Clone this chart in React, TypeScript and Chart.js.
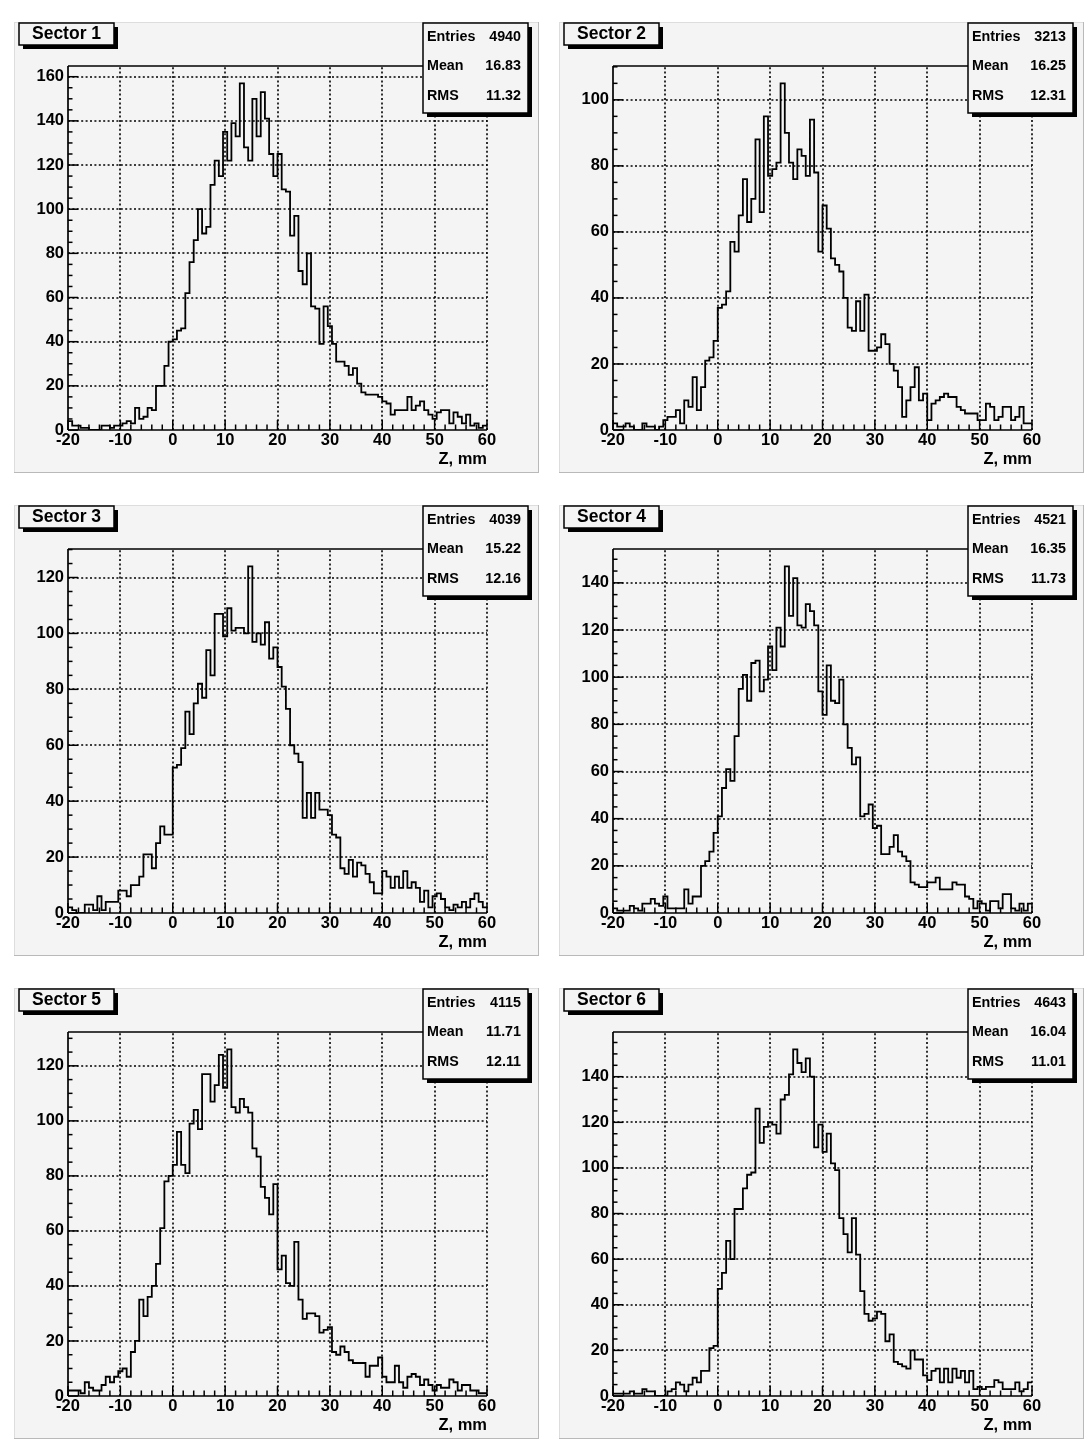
import React, { useEffect, useRef } from "react";
import { Chart, registerables } from "chart.js";

Chart.register(...registerables);

// ---------------- data ----------------
const X_MIN = -20;
const X_MAX = 60;
const BIN_WIDTH = 0.8;
const X_TICKS = [-20, -10, 0, 10, 20, 30, 40, 50, 60];
const X_MINOR_STEP = 2;
const Y_MAJOR_STEP = 20;
const Y_MINOR_STEP = 5;
const X_TITLE = "Z, mm";

const TITLES = ["Sector 1", "Sector 2", "Sector 3", "Sector 4", "Sector 5", "Sector 6"];
const STAT_LABELS = ["Entries", "Mean", "RMS"];
const ENTRIES = ["4940", "3213", "4039", "4521", "4115", "4643"];
const MEANS = ["16.83", "16.25", "15.22", "16.35", "11.71", "16.04"];
const RMS = ["11.32", "12.31", "12.16", "11.73", "12.11", "11.01"];

const SECTOR_1 = [
  4, 2, 2, 1, 1, 0, 0, 0, 2, 2,
  1, 2, 2, 3, 4, 3, 10, 5, 6, 10,
  9, 20, 20, 29, 40, 41, 45, 46, 62, 76,
  86, 100, 89, 92, 111, 122, 115, 135, 122, 139,
  133, 157, 128, 122, 150, 133, 153, 141, 125, 115,
  125, 109, 108, 88, 97, 72, 66, 80, 56, 55,
  39, 56, 47, 39, 31, 31, 29, 25, 28, 21,
  17, 16, 16, 16, 15, 13, 12, 7, 9, 9,
  9, 15, 9, 11, 13, 9, 7, 5, 8, 9,
  9, 3, 8, 6, 3, 7, 2, 3, 1, 2,
];
const SECTOR_2 = [
  2, 1, 1, 2, 1, 0, 0, 2, 1, 1,
  0, 1, 3, 4, 4, 6, 2, 9, 7, 16,
  6, 13, 21, 22, 27, 37, 38, 42, 57, 54,
  65, 76, 63, 70, 88, 66, 95, 77, 79, 81,
  105, 90, 81, 76, 85, 83, 77, 94, 78, 54,
  68, 61, 52, 50, 48, 40, 31, 30, 39, 30,
  41, 24, 24, 25, 29, 26, 20, 18, 13, 4,
  9, 13, 19, 9, 11, 3, 8, 9, 10, 11,
  10, 10, 7, 6, 5, 5, 5, 3, 3, 8,
  7, 3, 4, 7, 7, 3, 4, 7, 2, 2,
];
const SECTOR_3 = [
  2, 1, 0, 0, 3, 3, 1, 6, 1, 4,
  4, 4, 8, 8, 6, 10, 10, 13, 21, 21,
  16, 25, 31, 28, 28, 52, 53, 59, 72, 64,
  75, 82, 77, 94, 85, 107, 107, 99, 109, 101,
  102, 102, 100, 124, 97, 100, 96, 104, 91, 95,
  88, 81, 73, 60, 57, 54, 34, 43, 34, 43,
  37, 37, 35, 28, 27, 16, 14, 19, 13, 18,
  17, 14, 11, 7, 7, 15, 13, 9, 13, 9,
  15, 9, 11, 9, 4, 8, 2, 6, 7, 5,
  2, 1, 3, 2, 4, 2, 5, 7, 4, 2,
];
const SECTOR_4 = [
  2, 1, 1, 1, 3, 2, 1, 4, 4, 6,
  4, 3, 7, 2, 2, 2, 2, 10, 4, 7,
  7, 20, 22, 26, 34, 41, 53, 61, 56, 75,
  95, 101, 90, 106, 107, 94, 99, 113, 103, 121,
  113, 147, 126, 142, 122, 121, 131, 128, 122, 94,
  84, 105, 90, 89, 99, 80, 70, 63, 66, 41,
  42, 46, 36, 37, 25, 25, 28, 33, 26, 24,
  22, 13, 12, 11, 11, 13, 13, 15, 10, 10,
  10, 13, 12, 12, 7, 6, 2, 5, 4, 1,
  5, 5, 2, 8, 8, 2, 1, 4, 1, 4,
];
const SECTOR_5 = [
  2, 2, 2, 1, 5, 3, 2, 2, 4, 7,
  5, 7, 9, 10, 7, 16, 20, 35, 29, 36,
  40, 48, 61, 78, 80, 84, 96, 84, 81, 99,
  104, 97, 117, 117, 107, 113, 124, 112, 126, 105,
  103, 108, 105, 103, 90, 87, 76, 72, 66, 77,
  46, 51, 41, 40, 56, 35, 28, 30, 30, 29,
  23, 24, 25, 16, 15, 18, 16, 13, 12, 12,
  12, 7, 11, 11, 14, 7, 5, 5, 11, 5,
  3, 7, 8, 7, 4, 6, 4, 2, 4, 3,
  3, 6, 5, 2, 4, 4, 2, 2, 1, 1,
];
const SECTOR_6 = [
  1, 1, 1, 1, 2, 1, 1, 3, 2, 2,
  0, 0, 0, 2, 3, 6, 5, 2, 5, 8,
  6, 11, 11, 21, 22, 47, 54, 68, 60, 82,
  82, 91, 97, 98, 126, 111, 118, 120, 119, 115,
  130, 132, 141, 152, 146, 142, 148, 140, 109, 119,
  107, 115, 102, 99, 78, 71, 63, 78, 62, 46,
  36, 33, 34, 37, 36, 24, 27, 15, 14, 13,
  12, 20, 16, 16, 9, 7, 11, 12, 6, 12,
  6, 12, 8, 11, 6, 11, 3, 4, 3, 4,
  4, 7, 6, 3, 3, 3, 6, 2, 3, 6,
];
const SERIES = [SECTOR_1, SECTOR_2, SECTOR_3, SECTOR_4, SECTOR_5, SECTOR_6];

// ---------------- layout / style ----------------
const FONT = '"Liberation Sans", Arial, Helvetica, sans-serif';
const PAD_W = 525;
const PAD_H = 451;
const PAD_POS = [
  [14, 22], [559, 22],
  [14, 505], [559, 505],
  [14, 988], [559, 988],
];
const PAD_FILL = "#f4f4f4";

function Panel({ idx }: { idx: number }) {
  const ref = useRef<HTMLCanvasElement | null>(null);

  useEffect(() => {
    const values = SERIES[idx];
    const points = values.map((v, i) => ({ x: X_MIN + i * BIN_WIDTH, y: v }));
    points.push({ x: X_MAX, y: values[values.length - 1] });
    const yMax = Math.max(...values) * 1.05;
    const yTicks: number[] = [];
    for (let v = 0; v <= yMax; v += Y_MAJOR_STEP) yTicks.push(v);

    const line = (ctx: CanvasRenderingContext2D, x1: number, y1: number, x2: number, y2: number) => {
      ctx.beginPath();
      ctx.moveTo(x1, y1);
      ctx.lineTo(x2, y2);
      ctx.stroke();
    };

    const decor = {
      id: "rootDecor",
      beforeDraw(chart: any) {
        const { ctx, chartArea: a, scales } = chart;
        const xs = scales.x;
        const ys = scales.y;
        const W = chart.width;
        const H = chart.height;
        ctx.save();
        ctx.fillStyle = PAD_FILL;
        ctx.fillRect(0, 0, W, H);
        ctx.fillStyle = "#dddddd";
        ctx.fillRect(0, 0, W, 1);
        ctx.fillRect(0, 0, 1, H);
        ctx.fillStyle = "#b9b9b9";
        ctx.fillRect(0, H - 1, W, 1);
        ctx.fillRect(W - 1, 0, 1, H);

        // dotted grid
        ctx.strokeStyle = "#000";
        ctx.lineWidth = 1.6;
        ctx.setLineDash([2, 2.4]);
        for (const v of X_TICKS) {
          if (v === X_MIN) continue;
          const px = Math.round(xs.getPixelForValue(v));
          line(ctx, px, a.bottom, px, a.top);
        }
        for (const v of yTicks) {
          if (v === 0) continue;
          const py = Math.round(ys.getPixelForValue(v));
          line(ctx, a.left, py, a.right, py);
        }
        ctx.restore();
      },
      afterDatasetsDraw(chart: any) {
        const { ctx, chartArea: a, scales } = chart;
        const xs = scales.x;
        const ys = scales.y;
        ctx.save();
        ctx.setLineDash([]);
        ctx.strokeStyle = "#000";
        ctx.lineWidth = 1.7;
        // frame: left axis, bottom axis, top line
        line(ctx, a.left, a.bottom, a.left, a.top);
        line(ctx, a.left, a.bottom, a.right, a.bottom);
        line(ctx, a.left, a.top, a.right, a.top);

        // ticks (inside the frame, ROOT style)
        ctx.lineWidth = 1.5;
        for (let v = X_MIN; v <= X_MAX + 1e-9; v += X_MINOR_STEP) {
          const px = xs.getPixelForValue(v);
          const major = X_TICKS.includes(v);
          line(ctx, px, a.bottom, px, a.bottom - (major ? 10 : 5.5));
        }
        for (let v = 0; v <= yMax; v += Y_MINOR_STEP) {
          const py = ys.getPixelForValue(v);
          const major = v % Y_MAJOR_STEP === 0;
          line(ctx, a.left, py, a.left + (major ? 10 : 4.5), py);
        }

        // x-axis title
        ctx.fillStyle = "#000";
        ctx.font = `bold 16.5px ${FONT}`;
        ctx.textAlign = "right";
        ctx.textBaseline = "middle";
        ctx.fillText(X_TITLE, a.right, 437);

        // title box with shadow
        const tb = { x: 5, y: 1, w: 95, h: 22 };
        ctx.fillStyle = "#000";
        ctx.fillRect(tb.x + 4, tb.y + 4, tb.w, tb.h);
        ctx.fillStyle = PAD_FILL;
        ctx.fillRect(tb.x, tb.y, tb.w, tb.h);
        ctx.lineWidth = 1.5;
        ctx.strokeRect(tb.x, tb.y, tb.w, tb.h);
        ctx.fillStyle = "#000";
        ctx.font = `bold 17.5px ${FONT}`;
        ctx.textAlign = "center";
        ctx.fillText(TITLES[idx], tb.x + tb.w / 2, tb.y + tb.h / 2 + 0.5);

        // stats box with shadow
        const sb = { x: 409, y: 1, w: 105, h: 90 };
        ctx.fillStyle = "#000";
        ctx.fillRect(sb.x + 4, sb.y + 4, sb.w, sb.h);
        ctx.fillStyle = PAD_FILL;
        ctx.fillRect(sb.x, sb.y, sb.w, sb.h);
        ctx.strokeRect(sb.x, sb.y, sb.w, sb.h);
        ctx.fillStyle = "#000";
        ctx.font = `bold 14.3px ${FONT}`;
        const vals = [ENTRIES[idx], MEANS[idx], RMS[idx]];
        const rowY = [14, 43.5, 73.5];
        for (let k = 0; k < 3; k++) {
          ctx.textAlign = "left";
          ctx.fillText(STAT_LABELS[k], sb.x + 4, sb.y + rowY[k]);
          ctx.textAlign = "right";
          ctx.fillText(vals[k], sb.x + sb.w - 7, sb.y + rowY[k]);
        }
        ctx.restore();
      },
    };

    const tickFont = { family: FONT, size: 16.5, weight: "bold" as const, lineHeight: 1.2 };

    const chart = new Chart(ref.current as HTMLCanvasElement, {
      type: "line",
      data: {
        datasets: [
          {
            data: points,
            stepped: "before",
            borderColor: "#000",
            borderWidth: 1.8,
            pointRadius: 0,
            fill: false,
            tension: 0,
          } as any,
        ],
      },
      options: {
        animation: false,
        responsive: false,
        maintainAspectRatio: false,
        devicePixelRatio: 1,
        events: [],
        layout: { padding: { left: 0, top: 44, right: 52, bottom: 0 } },
        plugins: {
          legend: { display: false },
          tooltip: { enabled: false },
          title: { display: false },
        },
        scales: {
          x: {
            type: "linear",
            min: X_MIN,
            max: X_MAX,
            afterFit: (s: any) => {
              s.height = 43;
            },
            afterBuildTicks: (s: any) => {
              s.ticks = X_TICKS.map((v) => ({ value: v }));
            },
            grid: { display: false, drawTicks: false },
            border: { display: false },
            ticks: {
              padding: 1,
              maxRotation: 0,
              minRotation: 0,
              autoSkip: false,
              color: "#000",
              font: tickFont,
              callback: (v: any) => String(v),
            },
          },
          y: {
            type: "linear",
            min: 0,
            max: yMax,
            afterFit: (s: any) => {
              s.width = 54;
            },
            afterBuildTicks: (s: any) => {
              s.ticks = yTicks.map((v) => ({ value: v }));
            },
            grid: { display: false, drawTicks: false },
            border: { display: false },
            ticks: {
              padding: 4,
              autoSkip: false,
              color: "#000",
              font: tickFont,
              callback: (v: any) => String(v),
            },
          },
        },
      } as any,
      plugins: [decor],
    });

    return () => chart.destroy();
  }, [idx]);

  const [left, top] = PAD_POS[idx];
  return (
    <canvas
      ref={ref}
      width={PAD_W}
      height={PAD_H}
      style={{ position: "absolute", left, top, width: PAD_W, height: PAD_H }}
    />
  );
}

export default function App() {
  return (
    <div
      style={{
        position: "absolute",
        left: 0,
        top: 0,
        width: 1088,
        height: 1452,
        background: "#ffffff",
        overflow: "hidden",
      }}
    >
      {SERIES.map((_, i) => (
        <Panel key={i} idx={i} />
      ))}
    </div>
  );
}
